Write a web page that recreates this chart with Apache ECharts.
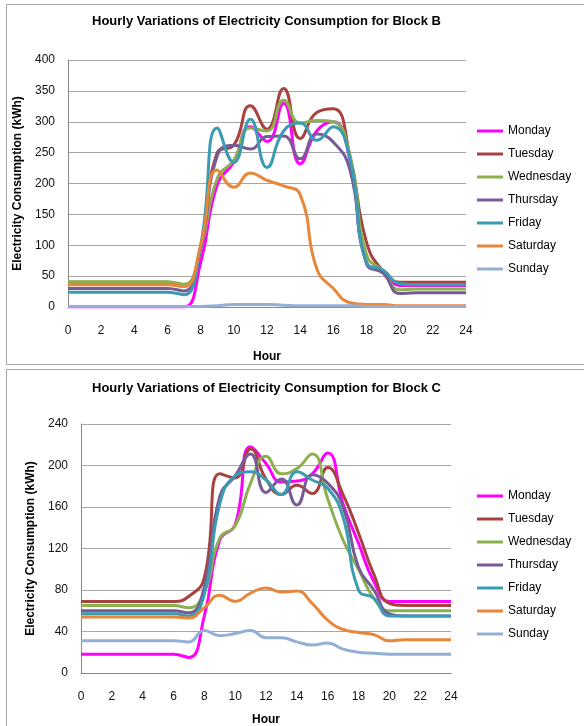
<!DOCTYPE html>
<html><head><meta charset="utf-8">
<script src="https://cdn.jsdelivr.net/npm/echarts@6/dist/echarts.min.js"></script>
<style>html,body{margin:0;padding:0;background:#fff}#c{width:584px;height:726px}</style>
</head><body><div id="c"></div>
<script>
// ---------- data ----------
const hours = [0,1,2,3,4,5,6,7,8,9,10,11,12,13,14,15,16,17,18,19,20,21,22,23,24];
const days = ['Monday','Tuesday','Wednesday','Thursday','Friday','Saturday','Sunday'];
const titleB = 'Hourly Variations of Electricity Consumption for Block B';
const titleC = 'Hourly Variations of Electricity Consumption for Block C';
const yName = 'Electricity Consumption (kWh)';
const xName = 'Hour';
const xTicks = [0,2,4,6,8,10,12,14,16,18,20,22,24];
const yTicksB = [0,50,100,150,200,250,300,350,400];
const yTicksC = [0,40,80,120,160,200,240];

// Block B (kWh)
const bMonday    = [0,0,0,0,0,0,0,0,72,198,235,292,268,330,232,285,300,238,72,58,35,35,35,35,35];
const bTuesday   = [40,40,40,40,40,40,40,36,95,250,262,326,288,354,273,315,321,245,105,58,40,40,40,40,40];
const bWednesday = [41,41,41,41,41,41,41,37,95,208,238,290,285,335,298,302,300,245,85,58,28,29,29,29,29];
const bThursday  = [30,30,30,30,30,30,30,26,95,245,262,256,276,277,240,280,267,222,70,55,22,23,23,23,23];
const bFriday    = [24,24,24,24,24,24,24,20,100,290,234,304,226,285,298,270,292,240,72,60,38,36,36,36,36];
const bSaturday  = [36,36,36,36,36,36,36,33,100,222,194,217,205,196,182,62,30,7,4,4,2,2,2,2,2];
const bSunday    = [1,1,1,1,1,1,1,1,1,2,4,4,4,3,2,2,2,2,1,1,1,1,1,1,1];

// Block C (kWh)
const cMonday    = [18,18,18,18,18,18,18,15,55,128,143,218,202,184,185,192,212,163,125,88,69,69,69,69,69];
const cTuesday   = [69,69,69,69,69,69,69,74,92,192,188,216,187,172,181,173,198,172,135,95,67,65,65,65,65];
const cWednesday = [65,65,65,65,65,65,65,63,78,130,142,183,209,192,197,211,168,128,100,72,60,60,60,60,60];
const cThursday  = [60,60,60,60,60,60,60,58,83,170,190,211,174,187,162,191,183,160,102,80,57,55,55,55,55];
const cFriday    = [57,57,57,57,57,57,57,55,76,163,190,194,186,172,194,186,178,150,80,72,55,55,55,55,55];
const cSaturday  = [54,54,54,54,54,54,54,53,63,75,69,77,82,78,79,67,51,42,39,37,31,32,32,32,32];
const cSunday    = [31,31,31,31,31,31,31,30,41,36,38,41,34,34,30,27,29,23,20,19,18,18,18,18,18];

const blockB = [bMonday,bTuesday,bWednesday,bThursday,bFriday,bSaturday,bSunday];
const blockC = [cMonday,cTuesday,cWednesday,cThursday,cFriday,cSaturday,cSunday];
const colors = ['#FF00FF','#A8423F','#8DB04F','#775B97','#3A9BB2','#E8873A','#94AFD6'];

// ---------- chart ----------
const FONT = 'Arial, "Liberation Sans", sans-serif';
const ctx = document.createElement('canvas').getContext('2d');
ctx.font = 'bold 13px ' + FONT;
const wB = ctx.measureText(titleB).width;
const wC = ctx.measureText(titleC).width;

function mkSeries(arr, gi) {
  return arr.map((vals, i) => ({
    name: days[i], type: 'line', xAxisIndex: gi, yAxisIndex: gi,
    data: hours.map((h, k) => [h, vals[k]]),
    smooth: 0.5, symbol: 'none', showSymbol: false,
    lineStyle: { width: 3, color: colors[i] }, itemStyle: { color: colors[i] },
    emphasis: { disabled: true }, animation: false
  }));
}
function xAx(gi, gap) {
  return {
    gridIndex: gi, type: 'value', min: xTicks[0], max: xTicks[xTicks.length-1], interval: xTicks[1]-xTicks[0],
    name: xName, nameLocation: 'middle', nameGap: gap,
    nameTextStyle: { fontFamily: FONT, fontWeight: 'bold', fontSize: 12, color: '#000' },
    axisLine: { show: true, lineStyle: { color: '#868686', width: 1 } },
    axisTick: { show: false }, splitLine: { show: false },
    axisLabel: { fontFamily: FONT, fontSize: 12, color: '#111', margin: 18 }
  };
}
function yAx(gi, ticks) {
  return {
    gridIndex: gi, type: 'value', min: ticks[0], max: ticks[ticks.length-1], interval: ticks[1]-ticks[0],
    name: yName, nameLocation: 'middle', nameGap: 44,
    nameTextStyle: { fontFamily: FONT, fontWeight: 'bold', fontSize: 12, color: '#000' },
    axisLine: { show: true, lineStyle: { color: '#868686', width: 1 } },
    axisTick: { show: false },
    splitLine: { show: true, lineStyle: { color: '#a6a6a6', width: 1 } },
    axisLabel: { fontFamily: FONT, fontSize: 12, color: '#111', margin: 13 }
  };
}
function lg(top) {
  return {
    data: days, orient: 'vertical', left: 472, top: top,
    icon: 'rect', itemWidth: 26, itemHeight: 3, itemGap: 9,
    textStyle: { fontFamily: FONT, fontSize: 12, lineHeight: 14, color: '#000' },
    selectedMode: false
  };
}

const chart = echarts.init(document.getElementById('c'), null, { renderer: 'canvas' });
chart.setOption({
  backgroundColor: '#fff',
  animation: false,
  title: [
    { text: titleB, left: Math.round(266 - wB/2 - 5), top: 10, textStyle: { fontFamily: FONT, fontWeight: 'bold', fontSize: 13, color: '#000' } },
    { text: titleC, left: Math.round(266 - wC/2 - 5), top: 377, textStyle: { fontFamily: FONT, fontWeight: 'bold', fontSize: 13, color: '#000' } }
  ],
  legend: [lg(119), lg(484)],
  grid: [
    { left: 68, top: 60, width: 398, height: 247, containLabel: false, outerBoundsMode: 'none' },
    { left: 81, top: 424, width: 370, height: 249, containLabel: false, outerBoundsMode: 'none' }
  ],
  xAxis: [xAx(0, 44), xAx(1, 41)],
  yAxis: [yAx(0, yTicksB), yAx(1, yTicksC)],
  series: mkSeries(blockB, 0).concat(mkSeries(blockC, 1)),
  graphic: [
    { type: 'rect', silent: true, shape: { x: 6.5, y: 4.5, width: 620, height: 360 }, style: { fill: 'none', stroke: '#a6a6a6', lineWidth: 1 } },
    { type: 'rect', silent: true, shape: { x: 6.5, y: 369.5, width: 620, height: 400 }, style: { fill: 'none', stroke: '#a6a6a6', lineWidth: 1 } }
  ]
});
</script>
</body></html>
